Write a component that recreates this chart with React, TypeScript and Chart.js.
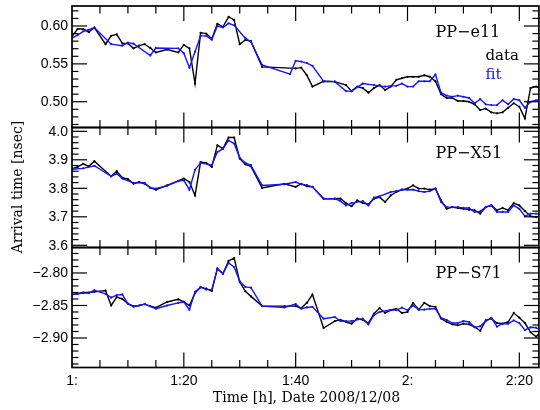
import React, { useEffect, useRef } from 'react';
import { Chart, registerables } from 'chart.js';

Chart.register(...registerables);

// minutes after 1:00 (2008/12/08)
const times = [0, 1, 2, 3, 4, 6, 7, 8, 9, 10, 11, 12, 13, 14, 15, 17, 19, 20, 21, 22, 23, 24, 25, 26, 27, 28, 29, 30, 31, 32, 34, 38, 39, 40, 41, 42, 43, 45, 47, 48, 49, 50, 51, 52, 53, 54, 55, 56, 57, 58, 59, 60, 61, 62, 63, 64, 65, 66, 67, 68, 69, 70, 71, 72, 73, 74, 75, 76, 77, 78, 79, 80, 81, 82, 83, 83.7];

const e11Data = [0.586, 0.596, 0.596, 0.592, 0.598, 0.576, 0.587, 0.589, 0.577, 0.577, 0.5705, 0.574, 0.576, 0.571, 0.565, 0.569, 0.565, 0.575, 0.5705, 0.524, 0.591, 0.590, 0.583, 0.603, 0.599, 0.612, 0.608, 0.576, 0.5815, 0.580, 0.546, null, null, 0.544, 0.545, 0.535, 0.520, 0.527, 0.5265, null, 0.522, 0.514, 0.520, 0.518, 0.512, 0.518, 0.522, 0.5155, 0.520, 0.529, 0.531, 0.533, 0.533, 0.533, 0.535, 0.533, 0.527, 0.510, 0.505, 0.505, 0.501, 0.501, 0.500, 0.4966, 0.489, 0.491, 0.486, 0.4847, 0.486, 0.492, 0.498, 0.4934, 0.478, 0.518, 0.520, 0.518];
const e11Fit = [0.584, 0.588, 0.593, 0.595, 0.598, null, 0.576, null, 0.574, 0.578, 0.5766, null, null, 0.561, 0.571, null, 0.5705, 0.564, 0.545, 0.566, 0.587, 0.587, 0.582, 0.600, 0.598, 0.6035, 0.601, null, 0.584, 0.579, 0.5485, null, 0.5365, 0.554, 0.553, 0.551, 0.5475, 0.527, 0.5265, null, 0.514, 0.514, null, 0.524, null, 0.522, null, 0.520, 0.521, 0.521, 0.524, 0.520, 0.520, 0.527, 0.527, 0.527, 0.536, 0.512, 0.508, 0.5066, 0.508, 0.5066, 0.505, 0.498, 0.5035, 0.4966, 0.4956, 0.4956, 0.502, 0.4966, 0.5035, 0.502, 0.492, 0.500, 0.502, 0.502];

const x51Data = [3.869, 3.875, 3.886, 3.877, 3.895, null, 3.842, 3.860, 3.837, 3.832, 3.816, 3.822, 3.816, 3.802, 3.795, 3.810, 3.826, 3.834, 3.822, 3.775, 3.892, 3.889, 3.875, 3.951, 3.939, 3.978, 3.978, 3.904, 3.884, 3.877, 3.801, 3.816, null, 3.805, 3.816, 3.807, 3.805, 3.7635, 3.7635, 3.764, 3.748, 3.737, 3.758, 3.748, 3.744, 3.7635, 3.769, 3.752, 3.775, 3.787, 3.795, 3.799, 3.810, 3.799, 3.799, 3.795, 3.799, 3.758, 3.728, 3.734, 3.731, 3.728, 3.725, 3.723, 3.711, 3.734, 3.740, 3.723, 3.731, 3.723, 3.748, 3.740, 3.720, 3.702, 3.699, 3.702];
const x51Fit = [3.867, null, 3.870, null, 3.879, null, 3.842, 3.851, 3.834, null, 3.819, null, 3.819, 3.802, 3.799, 3.809, 3.825, 3.828, 3.795, 3.865, 3.889, null, 3.881, 3.927, 3.939, 3.968, 3.957, 3.907, 3.889, 3.881, 3.810, 3.814, null, 3.822, 3.814, 3.811, 3.805, 3.7635, 3.7635, 3.755, 3.740, 3.748, null, 3.755, 3.740, 3.767, 3.772, null, 3.787, 3.790, 3.795, 3.795, 3.795, 3.790, 3.787, 3.790, 3.799, 3.752, 3.734, 3.734, 3.734, 3.731, 3.731, 3.717, 3.719, 3.734, 3.740, 3.717, 3.717, 3.717, 3.740, 3.728, 3.702, 3.711, 3.711, 3.709];

const s71Data = [-2.833, -2.832, -2.830, -2.830, -2.829, -2.827, -2.850, -2.837, -2.840, -2.847, -2.851, -2.850, -2.848, -2.851, -2.8534, -2.8446, -2.8405, -2.8446, -2.850, -2.831, -2.822, -2.824, -2.8277, -2.7934, -2.801, -2.7815, -2.777, -2.814, -2.828, -2.836, -2.851, -2.851, null, -2.851, -2.854, -2.846, -2.8333, -2.8846, -2.874, -2.872, -2.8754, -2.878, -2.8703, -2.872, -2.877, -2.8626, -2.854, -2.8615, -2.857, -2.855, -2.8615, -2.860, -2.846, -2.8564, -2.846, -2.851, -2.852, -2.870, -2.8754, -2.879, -2.8805, -2.878, -2.879, -2.883, -2.889, -2.873, -2.8703, -2.877, -2.878, -2.8754, -2.8615, -2.8688, -2.877, -2.891, -2.898, -2.892];
const s71Fit = [-2.8333, -2.832, -2.831, -2.831, -2.8267, -2.832, -2.838, -2.834, -2.833, -2.8475, -2.852, null, -2.848, null, -2.855, -2.850, -2.846, -2.8446, -2.8564, -2.829, -2.8215, -2.8256, -2.8256, -2.7934, -2.801, -2.7846, -2.7908, -2.8128, -2.8215, -2.8226, -2.851, -2.853, null, -2.8477, -2.855, -2.853, -2.852, -2.8703, -2.8677, -2.874, -2.874, -2.874, null, -2.8703, -2.879, -2.865, -2.860, null, -2.857, -2.857, -2.8534, -2.857, -2.850, -2.8564, -2.8564, -2.855, -2.855, -2.869, -2.8723, -2.877, -2.877, -2.874, -2.8754, -2.8836, -2.882, -2.874, -2.869, -2.8826, -2.878, -2.878, -2.873, -2.877, -2.888, -2.8836, -2.884, -2.888];

const timeTicks = [0, 20, 40, 60, 80];
const timeTickLabels = ['1:', '1:20', '1:40', '2:', '2:20'];

const e11Ticks = [0.5, 0.55, 0.6];
const e11TickLabels = ['0.50', '0.55', '0.60'];
const x51Ticks = [3.6, 3.7, 3.8, 3.9, 4.0];
const x51TickLabels = ['3.6', '3.7', '3.8', '3.9', '4.0'];
const s71Ticks = [-2.9, -2.85, -2.8];
const s71TickLabels = ['\u22122.90', '\u22122.85', '\u22122.80'];

const panelNames = ['PP\u2212e11', 'PP\u2212X51', 'PP\u2212S71'];
const legendLabels = ['data', 'fit'];
const xTitle = 'Time [h], Date 2008/12/08';
const yTitle = 'Arrival time [nsec]';

const BLUE = '#1414ff';
const SERIF = '"DejaVu Serif", serif';
const SANS = '"Liberation Sans", Arial, sans-serif';

const W = 540;
const H = 410;
const PLOT_LEFT = 72;
const PLOT_RIGHT = 539;
const X_MIN = 0;
const X_MAX = 83.5;

interface Panel {
  name: string;
  data: (number | null)[];
  fit: (number | null)[];
  min: number;
  max: number;
  ticks: number[];
  tickLabels: string[];
  minorStep: number;
  top: number;
  bottom: number;
  legend: boolean;
  axisLabels: boolean;
}

const panels: Panel[] = [
  { name: panelNames[0], data: e11Data, fit: e11Fit, min: 0.466, max: 0.6264, ticks: e11Ticks, tickLabels: e11TickLabels, minorStep: 0.01, top: 6, bottom: 127.5, legend: true, axisLabels: false },
  { name: panelNames[1], data: x51Data, fit: x51Fit, min: 3.5923, max: 4.0133, ticks: x51Ticks, tickLabels: x51TickLabels, minorStep: 0.02, top: 127.5, bottom: 247.5, legend: false, axisLabels: false },
  { name: panelNames[2], data: s71Data, fit: s71Fit, min: -2.9454, max: -2.7608, ticks: s71Ticks, tickLabels: s71TickLabels, minorStep: 0.01, top: 247.5, bottom: 367.5, legend: false, axisLabels: true },
];

function makePlugin(p: Panel) {
  return {
    id: 'framePlugin',
    afterDatasetsDraw(chart: any) {
      const { ctx, chartArea: a, scales } = chart;
      const xs = scales.x;
      const ys = scales.y;
      const line = (x1: number, y1: number, x2: number, y2: number) => {
        ctx.beginPath();
        ctx.moveTo(x1, y1);
        ctx.lineTo(x2, y2);
        ctx.stroke();
      };
      ctx.save();
      ctx.strokeStyle = '#000';
      ctx.lineWidth = 1.2;
      // x ticks (top and bottom, inward)
      for (let m = X_MIN; m <= X_MAX; m += 5) {
        const px = xs.getPixelForValue(m);
        if (px < a.left + 0.5 || px > a.right - 0.5) continue;
        const major = timeTicks.includes(m);
        const len = major ? 15 : 7.5;
        line(px, a.bottom, px, a.bottom - len);
        line(px, a.top, px, a.top + len);
      }
      // y ticks (left and right, inward)
      const k0 = Math.ceil(p.min / p.minorStep - 1e-6);
      const k1 = Math.floor(p.max / p.minorStep + 1e-6);
      for (let k = k0; k <= k1; k++) {
        const v = k * p.minorStep;
        const py = ys.getPixelForValue(v);
        if (py < a.top + 0.5 || py > a.bottom - 0.5) continue;
        const major = p.ticks.some((t) => Math.abs(t - v) < 1e-6);
        const len = major ? 15 : 6.5;
        line(a.left, py, a.left + len, py);
        line(a.right, py, a.right - len, py);
      }
      // frame
      ctx.lineWidth = 1.7;
      ctx.strokeRect(a.left, a.top, a.right - a.left, a.bottom - a.top);

      // y tick labels
      ctx.fillStyle = '#000';
      ctx.font = '14px ' + SANS;
      ctx.textAlign = 'right';
      ctx.textBaseline = 'middle';
      p.ticks.forEach((t, i) => {
        ctx.fillText(p.tickLabels[i], a.left - 4, ys.getPixelForValue(t) + 0.5);
      });

      // panel name
      ctx.font = '16px ' + SERIF;
      ctx.textAlign = 'left';
      ctx.fillText(p.name, 435.5, a.top + 26.5);

      if (p.legend) {
        ctx.font = '15px ' + SERIF;
        ctx.fillStyle = '#000';
        ctx.fillText(legendLabels[0], 485.5, 56.5);
        ctx.fillStyle = BLUE;
        ctx.fillText(legendLabels[1], 485.5, 75.5);
      }

      if (p.axisLabels) {
        ctx.fillStyle = '#000';
        ctx.font = '14px ' + SANS;
        ctx.textAlign = 'center';
        ctx.textBaseline = 'middle';
        timeTicks.forEach((t, i) => {
          ctx.fillText(timeTickLabels[i], xs.getPixelForValue(t), 381.5);
        });
        ctx.font = '14px ' + SERIF;
        ctx.fillText(xTitle, 306.5, 398);
        ctx.save();
        ctx.translate(18, 187);
        ctx.rotate(-Math.PI / 2);
        ctx.fillText(yTitle, 0, 0);
        ctx.restore();
      }
      ctx.restore();
    },
  };
}

function PanelChart({ p }: { p: Panel }) {
  const ref = useRef<HTMLCanvasElement | null>(null);
  useEffect(() => {
    if (!ref.current) return;
    const mk = (vals: (number | null)[]) => times.map((t, i) => ({ x: t, y: vals[i] }));
    const chart = new Chart(ref.current, {
      type: 'line',
      data: {
        datasets: [
          {
            label: legendLabels[1],
            data: mk(p.fit) as any,
            borderColor: BLUE,
            backgroundColor: BLUE,
            borderWidth: 1.4,
            pointRadius: 1.1,
            pointBorderWidth: 0,
            pointHoverRadius: 0,
            tension: 0,
            spanGaps: true,
          },
          {
            label: legendLabels[0],
            data: mk(p.data) as any,
            borderColor: '#000',
            backgroundColor: '#000',
            borderWidth: 1.4,
            pointRadius: 1.1,
            pointBorderWidth: 0,
            pointHoverRadius: 0,
            tension: 0,
            spanGaps: true,
          },
        ],
      },
      options: {
        responsive: false,
        animation: false,
        events: [],
        devicePixelRatio: 1,
        layout: {
          padding: { left: PLOT_LEFT, right: W - PLOT_RIGHT, top: p.top, bottom: H - p.bottom },
        },
        plugins: {
          legend: { display: false },
          tooltip: { enabled: false },
          title: { display: false },
        },
        scales: {
          x: { type: 'linear', min: X_MIN, max: X_MAX, display: false },
          y: { type: 'linear', min: p.min, max: p.max, display: false },
        },
      },
      plugins: [makePlugin(p)],
    } as any);
    return () => chart.destroy();
  }, [p]);
  return (
    <canvas
      ref={ref}
      width={W}
      height={H}
      style={{ position: 'absolute', left: 0, top: 0, width: W, height: H }}
    />
  );
}

export default function App() {
  return (
    <div style={{ position: 'absolute', left: 0, top: 0, width: W, height: H, background: '#fff', overflow: 'hidden' }}>
      {panels.map((p, i) => (
        <PanelChart key={i} p={p} />
      ))}
    </div>
  );
}
